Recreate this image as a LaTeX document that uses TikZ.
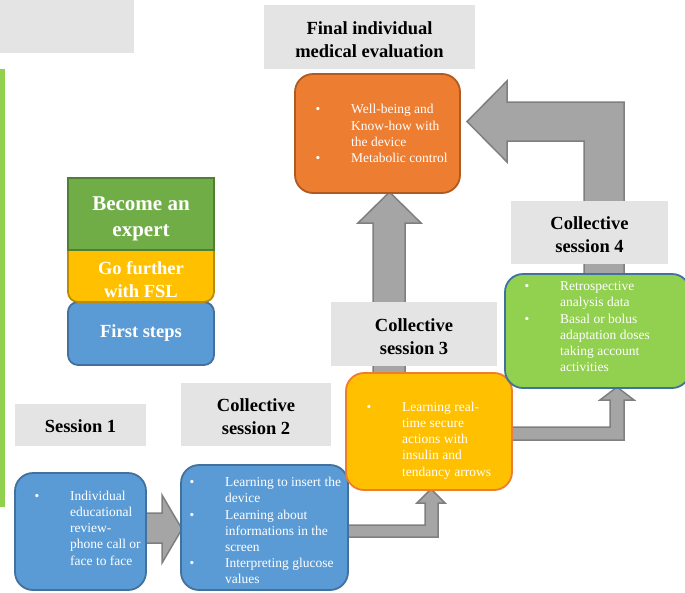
\documentclass[tikz,border=0pt]{standalone}
\usepackage{fontspec}
\setmainfont{Liberation Serif}
\usepackage{array}
\usetikzlibrary{calc}
\definecolor{lblgray}{HTML}{E4E4E4}
\definecolor{arrfill}{HTML}{A5A5A5}
\definecolor{arrdraw}{HTML}{7F7F7F}
\definecolor{mblue}{HTML}{5B9BD5}
\definecolor{mblueb}{HTML}{41719C}
\definecolor{myel}{HTML}{FFC000}
\definecolor{myelb}{HTML}{BC8C00}
\definecolor{morange}{HTML}{ED7D31}
\definecolor{morangeb}{HTML}{AE5A21}
\definecolor{mlgreen}{HTML}{92D050}
\definecolor{mdgreen}{HTML}{70AD47}
\definecolor{mdgreenb}{HTML}{507E32}
\newcommand\myblist[2]{\begin{tabular}{@{}>{\raggedright\arraybackslash}p{34pt}@{}>{\raggedright\arraybackslash}p{#1}@{}}#2\end{tabular}}
\newcommand\mybul{\hspace*{-1.5pt}\textbullet}
\begin{document}
\begin{tikzpicture}[x=1pt,y=-1pt,
  lblbox/.style={fill=lblgray, draw=none, inner sep=0},
  lbltext/.style={inner sep=0, align=center, text=black,
    font=\fontsize{18.5}{23}\selectfont\bfseries},
  sbox/.style={rounded corners=18pt, line width=1.8pt, inner sep=0},
  btext/.style={inner sep=0, anchor=west, text=white,
    font=\fontsize{13.5}{16.2}\selectfont},
  blockarrow/.style={fill=arrfill, draw=arrdraw, line width=1.5pt, line join=miter},
  legtext/.style={inner sep=0, align=center, text=white}
]
\useasboundingbox (0,0) rectangle (685,592);

% top-left gray box and left green bar
\node[lblbox, minimum width=134, minimum height=53] (topgray) at (67,26.5) {};
\node[fill=mlgreen, inner sep=0, minimum width=5, minimum height=438] (gbar) at (2.5,288) {};

% legend
\node[fill=mblue, draw=mblueb, line width=1.8pt, rounded corners=10pt, inner sep=0,
  minimum width=146, minimum height=63] (leg1) at (141,333.5) {};
\node[fill=myel, draw=myelb, line width=1.8pt, rounded corners=10pt, inner sep=0,
  minimum width=146, minimum height=62] (leg2) at (141,271) {};
\node[fill=mdgreen, draw=mdgreenb, line width=1.8pt, inner sep=0,
  minimum width=146, minimum height=72] (leg3) at (141,214) {};
\node[legtext, font=\fontsize{21}{26}\selectfont\bfseries] (leg3t) at (141,219) {Become an\\expert};
\node[legtext, font=\fontsize{18.5}{23}\selectfont\bfseries] (leg2t) at (141,280) {Go further\\with FSL};
\node[legtext, font=\fontsize{18.5}{23}\selectfont\bfseries] (leg1t) at (141,333.5) {First steps};

% block arrows (behind)
\draw[blockarrow] (146,513) -- (162,513) -- (162,495) -- (182,529) -- (162,563) -- (162,543) -- (146,543) -- cycle;
\draw[blockarrow] (347,525) -- (425,525) -- (425,503) -- (417,503) -- (431,489) -- (445,503) -- (438,503) -- (438,537) -- (347,537) -- cycle;
\draw[blockarrow] (512,427) -- (610,427) -- (610,400) -- (600,400) -- (617,387) -- (634,400) -- (624,400) -- (624,440) -- (512,440) -- cycle;
\draw[blockarrow] (373,374) -- (373,223) -- (358,223) -- (389.5,192) -- (421,223) -- (405,223) -- (405,374) -- cycle;
\draw[blockarrow] (584,275) -- (584,141) -- (507,141) -- (507,162) -- (467,121.5) -- (507,81) -- (507,102) -- (624,102) -- (624,275) -- cycle;

% labels
\node[lblbox, minimum width=131, minimum height=42] (l1) at (80.5,425) {};
\node[lblbox, minimum width=150, minimum height=63] (l2) at (256,414.5) {};
\node[lblbox, minimum width=166, minimum height=64] (l3) at (414,334) {};
\node[lblbox, minimum width=157, minimum height=63] (l4) at (589.5,232.5) {};
\node[lblbox, minimum width=211, minimum height=64] (lf) at (369.5,37) {};
\node[lbltext] (l1t) at ($(l1)+(0,1.5)$) {Session 1};
\node[lbltext] (l2t) at ($(l2)+(0,2.5)$) {Collective\\session 2};
\node[lbltext] (l3t) at ($(l3)+(0,2.5)$) {Collective\\session 3};
\node[lbltext] (l4t) at ($(l4)+(0,2.5)$) {Collective\\session 4};
\node[lbltext] (lft) at ($(lf)+(0,2.5)$) {Final individual\\medical evaluation};

% boxes
\node[sbox, fill=mblue, draw=mblueb, minimum width=131, minimum height=117] (b1) at (80.5,531.5) {};
\node[sbox, fill=mblue, draw=mblueb, minimum width=167, minimum height=125] (b2) at (264.5,527.5) {};
\node[sbox, fill=myel, draw=morange, minimum width=166, minimum height=117] (b3) at (429,431.5) {};
\node[sbox, fill=mlgreen, draw=mblueb, minimum width=185, minimum height=114] (b4) at (597.5,331) {};
\node[sbox, fill=morange, draw=morangeb, minimum width=165, minimum height=119] (bf) at (377.5,133.5) {};

% box texts
\node[btext] (t1) at (36,529.5) {\myblist{80pt}{\mybul & Individual\newline educational\newline review-\newline phone call or\newline face to face}};
\node[btext] (t2) at (191,532) {\myblist{125pt}{\mybul & Learning to insert the\newline device\\
\mybul & Learning about\newline informations in the\newline screen\\
\mybul & Interpreting glucose\newline values}};
\node[btext] (t3) at (368,440.5) {\myblist{105pt}{\mybul & Learning real-\newline time secure\newline actions with\newline insulin and\newline tendancy arrows}};
\node[btext] (t4) at (526,328) {\myblist{115pt}{\mybul & Retrospective\newline analysis data\\
\mybul & Basal or bolus\newline adaptation doses\newline taking account\newline activities}};
\node[btext] (tf) at (317,135) {\myblist{105pt}{\mybul & Well-being and\newline Know-how with\newline the device\\
\mybul & Metabolic control}};
\end{tikzpicture}
\end{document}
